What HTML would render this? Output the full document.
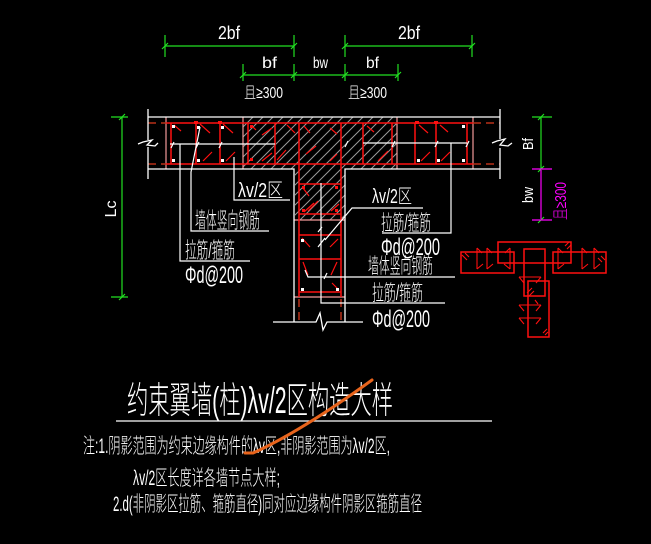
<!DOCTYPE html>
<html><head><meta charset="utf-8">
<style>
html,body{margin:0;padding:0;background:#000;}
svg{display:block;}
text{font-family:"Liberation Sans","Noto Sans CJK SC","WenQuanYi Zen Hei",sans-serif;fill:#fff;font-weight:300;}
</style></head><body>
<svg width="651" height="544" viewBox="0 0 651 544" xmlns="http://www.w3.org/2000/svg">
<defs>
<pattern id="h" patternUnits="userSpaceOnUse" width="10" height="10">
<path d="M0 10 L10 0 M-1 1 L1 -1 M9 11 L11 9" stroke="#9a9a9a" stroke-width="1"/>
</pattern>
</defs>
<rect width="651" height="544" fill="#000"/>

<!-- hatch -->
<polygon points="243,117 397,117 397,169 345,169 345,220 295,220 295,169 243,169" fill="url(#h)"/>

<!-- green dims top -->
<g stroke="#22e022" stroke-width="1.2" fill="none">
<line x1="165" y1="46" x2="294" y2="46"/>
<line x1="345" y1="46" x2="472" y2="46"/>
<line x1="165" y1="35" x2="165" y2="57"/>
<line x1="294" y1="35" x2="294" y2="57"/>
<line x1="345" y1="35" x2="345" y2="57"/>
<line x1="472" y1="35" x2="472" y2="57"/>
<line x1="243" y1="75" x2="398" y2="75"/>
<line x1="243" y1="64" x2="243" y2="81"/>
<line x1="294" y1="64" x2="294" y2="81"/>
<line x1="345" y1="64" x2="345" y2="81"/>
<line x1="398" y1="64" x2="398" y2="81"/>
<path d="M162 49 L168 43 M291 49 L297 43 M342 49 L348 43 M469 49 L475 43 M240 78 L246 72 M291 78 L297 72 M342 78 L348 72 M395 78 L401 72"/>
<!-- Lc -->
<line x1="122" y1="117" x2="122" y2="297"/>
<line x1="111" y1="117" x2="128" y2="117"/>
<line x1="111" y1="297" x2="128" y2="297"/>
<path d="M119 120 L125 114 M119 300 L125 294"/>
<!-- right Bf -->
<line x1="541" y1="117" x2="541" y2="169"/>
<line x1="532" y1="117" x2="552" y2="117"/>
<path d="M538 120 L544 114 M538 172 L544 166 M538 223 L544 217"/>
</g>
<g stroke="#ff00ff" stroke-width="1.2">
<line x1="541" y1="170" x2="541" y2="219"/>
<line x1="532" y1="169" x2="552" y2="169"/>
<line x1="532" y1="220" x2="552" y2="220"/>
</g>

<!-- dim texts -->
<text x="218" y="39" font-size="18" textLength="22" lengthAdjust="spacingAndGlyphs">2bf</text>
<text x="398" y="39" font-size="18" textLength="22" lengthAdjust="spacingAndGlyphs">2bf</text>
<text x="262" y="68" font-size="16" textLength="15" lengthAdjust="spacingAndGlyphs">bf</text>
<text x="313" y="68" font-size="16" textLength="15" lengthAdjust="spacingAndGlyphs">bw</text>
<text x="366" y="68" font-size="16" textLength="13" lengthAdjust="spacingAndGlyphs">bf</text>
<text x="244" y="98" font-size="16" textLength="39" lengthAdjust="spacingAndGlyphs">且≥300</text>
<text x="348" y="98" font-size="16" textLength="39" lengthAdjust="spacingAndGlyphs">且≥300</text>
<text transform="translate(533,144) rotate(-90)" text-anchor="middle" font-size="15" textLength="12" lengthAdjust="spacingAndGlyphs">Bf</text>
<text transform="translate(533,195) rotate(-90)" text-anchor="middle" font-size="15" textLength="16" lengthAdjust="spacingAndGlyphs">bw</text>
<text transform="translate(566,201) rotate(-90)" text-anchor="middle" font-size="16" textLength="38" lengthAdjust="spacingAndGlyphs" style="fill:#ff00ff">且≥300</text>
<text transform="translate(116,209) rotate(-90)" text-anchor="middle" font-size="16" textLength="17" lengthAdjust="spacingAndGlyphs">Lc</text>

<!-- pink lines -->
<g stroke="#f49a9a" stroke-width="1.2">
<line x1="166" y1="117" x2="166" y2="169"/>
<line x1="243" y1="117" x2="243" y2="169"/>
<line x1="397" y1="117" x2="397" y2="169"/>
<line x1="473" y1="117" x2="473" y2="169"/>
<line x1="294" y1="220" x2="345" y2="220"/>
<line x1="294" y1="297" x2="345" y2="297"/>
</g>

<!-- red rebar -->
<g stroke="#ff1010" stroke-width="1.5" fill="none">
<line x1="166" y1="123" x2="473" y2="123"/>
<line x1="166" y1="164" x2="473" y2="164"/>
<path d="M171 123V164 M196 123V164 M220 123V164 M248 123V164 M275 123V164 M363 123V164 M392 123V164 M415 123V164 M436 123V164 M467 123V164"/>
<path d="M299 123V297 M341 123V297"/>
<path d="M299 184H341 M299 214H341 M299 235H341 M299 259H341 M299 292H341"/>
</g>
<g stroke="#ff1010" stroke-width="1.2" fill="none">
<path d="M174 125 L181 131 M200 124 L210 133 M223 124 L233 133 M203 161 L212 152 M226 161 L235 152 M252 126 L256 130 M262 135 L272 128 M262 161 L272 153 M277 160 L286 150 M287 125 L295 133"/>
<path d="M304 126 L310 133 M330 128 L337 134 M306 154 L316 146 M330 161 L337 154 M367 126 L374 132 M378 161 L388 151 M419 125 L428 133 M440 125 L448 132 M421 161 L430 152 M441 161 L450 152"/>
<path d="M303 188 L309 196 M304 212 L314 203 M308 211 L318 201 M331 211 L339 204 M302 238 L310 247 M330 247 L338 239 M303 262 L308 275 M337 262 L331 275 M332 283 L339 290"/>
</g>
<g fill="#ff1010">
<rect x="194" y="121" width="4" height="3"/><rect x="218" y="121" width="4" height="3"/>
<rect x="250" y="125" width="3" height="3"/><rect x="250" y="158" width="3" height="3"/>
<rect x="415" y="121" width="4" height="3"/><rect x="434" y="121" width="4" height="3"/>
<rect x="302" y="186" width="3" height="3"/><rect x="335" y="186" width="3" height="3"/>
<rect x="302" y="209" width="3" height="3"/><rect x="335" y="209" width="3" height="3"/>
</g>
<g stroke="#b83018" stroke-width="1.5" stroke-dasharray="8,5">
<line x1="148" y1="123" x2="166" y2="123"/>
<line x1="148" y1="164" x2="166" y2="164"/>
<line x1="473" y1="123" x2="500" y2="123"/>
<line x1="473" y1="164" x2="500" y2="164"/>
<line x1="299" y1="299" x2="299" y2="322"/>
<line x1="341" y1="299" x2="341" y2="322"/>
</g>
<!-- white dots -->
<g fill="#fff">
<rect x="172" y="125" width="3" height="3"/><rect x="172" y="159" width="3" height="3"/>
<rect x="197" y="159" width="3" height="3"/><rect x="221" y="159" width="3" height="3"/>
<rect x="197" y="126" width="3" height="3"/><rect x="221" y="126" width="3" height="3"/>
<rect x="417" y="159" width="3" height="3"/><rect x="437" y="159" width="3" height="3"/>
<rect x="462" y="159" width="3" height="3"/><rect x="462" y="125" width="3" height="3"/>
<rect x="301" y="239" width="3" height="3"/><rect x="301" y="288" width="3" height="3"/>
<rect x="336" y="288" width="3" height="3"/>
</g>

<!-- white outline -->
<g stroke="#fff" stroke-width="1.3" fill="none">
<line x1="148" y1="117" x2="500" y2="117"/>
<path d="M148 109 V140 M148 147 V179"/>
<path d="M138 144 L143 142 L152 140 L147 145 L155 146 L158 143"/>
<path d="M500 109 V139 M500 148 V179"/>
<path d="M492 143 L497 141 L505 139 L500 145 L508 146 L512 143"/>
<path d="M148 169 H294 V322"/>
<path d="M500 169 H345 V322"/>
<path d="M273 322 L316 322 L320 313 L323 330 L327 322 L363 322"/>
</g>

<!-- leaders -->
<g stroke="#fff" stroke-width="1.2" fill="none">
<path d="M234 157 V200 H290"/>
<path d="M200 127 L191 172 V231 H269"/>
<path d="M170 144 H275 M180 144 V261 H250"/>
<path d="M363 143 H467 M451 143 V233 H382"/>
<path d="M325 240 L352 208 H423"/>
<path d="M305 270 L308 277 H455"/>
<path d="M321 183 V303 H445"/>
<path d="M171 148 L174 142 M196 148 L199 142 M219 148 L222 142 M345 147 L348 141 M392 147 L395 141 M435 147 L438 141 M466 147 L469 141 M318 247 L325 238 M318 232 L322 227 M324 279 L327 273"/>
</g>

<!-- labels -->
<text x="238" y="197" font-size="20" textLength="45" lengthAdjust="spacingAndGlyphs">λv/2区</text>
<text x="195" y="228" font-size="22" textLength="65" lengthAdjust="spacingAndGlyphs">墙体竖向钢筋</text>
<text x="185" y="258" font-size="22" textLength="50" lengthAdjust="spacingAndGlyphs">拉筋/箍筋</text>
<text x="185" y="283" font-size="24" textLength="58" lengthAdjust="spacingAndGlyphs">Φd@200</text>
<text x="372" y="203" font-size="20" textLength="40" lengthAdjust="spacingAndGlyphs">λv/2区</text>
<text x="381" y="230" font-size="21" textLength="50" lengthAdjust="spacingAndGlyphs">拉筋/箍筋</text>
<text x="381" y="255" font-size="24" textLength="59" lengthAdjust="spacingAndGlyphs">Φd@200</text>
<text x="368" y="273" font-size="21" textLength="65" lengthAdjust="spacingAndGlyphs">墙体竖向钢筋</text>
<text x="372" y="300" font-size="21" textLength="51" lengthAdjust="spacingAndGlyphs">拉筋/箍筋</text>
<text x="372" y="327" font-size="24" textLength="58" lengthAdjust="spacingAndGlyphs">Φd@200</text>

<!-- small right diagram -->
<g stroke="#ff1010" stroke-width="1.5" fill="none">
<rect x="498" y="242" width="73" height="21"/>
<rect x="461" y="252" width="53" height="21"/>
<rect x="553" y="252" width="53" height="21"/>
<rect x="524" y="249" width="21" height="47"/>
<rect x="528" y="281" width="21" height="56"/>
</g>
<g stroke="#ff1010" stroke-width="1.1" fill="none">
<path d="M462 255 L467 260 M465 253 L469 257"/>
<path d="M477 248 V269 M477 248 L482 253 M477 269 L483 264"/>
<path d="M487 248 V269 M487 248 L492 253 M487 269 L493 264"/>
<path d="M510 248 V269 M510 248 L505 253 M510 269 L504 264"/>
<path d="M558 248 V269 M558 248 L563 253 M558 269 L564 264"/>
<path d="M582 248 V269 M582 248 L587 253 M582 269 L588 264"/>
<path d="M594 248 V269 M594 248 L599 253 M594 269 L600 264"/>
<path d="M601 256 L605 260 M598 258 L602 262"/>
<path d="M565 246 L569 242 M567 249 L571 245 M538 304 L535 300"/>
<path d="M519 277 H541 M519 277 L524 283 M541 277 L536 283"/>
<path d="M519 305 H541 M519 305 L524 311 M541 305 L536 311"/>
<path d="M519 318 H541 M519 318 L524 324 M541 318 L536 324"/>
<path d="M527 293 L532 288 M529 296 L534 291 M543 333 L547 329 M545 335 L548 332"/>
</g>

<!-- title -->
<text x="127" y="413" font-size="37" textLength="266" lengthAdjust="spacingAndGlyphs">约束翼墙(柱)λv/2区构造大样</text>
<line x1="116" y1="421" x2="492" y2="421" stroke="#fff" stroke-width="1.2"/>
<text x="83" y="453" font-size="21" textLength="307" lengthAdjust="spacingAndGlyphs">注:1.阴影范围为约束边缘构件的λv区,非阴影范围为λv/2区,</text>
<text x="133" y="485" font-size="21" textLength="147" lengthAdjust="spacingAndGlyphs">λv/2区长度详各墙节点大样;</text>
<text x="113" y="511" font-size="21" textLength="309" lengthAdjust="spacingAndGlyphs">2.d(非阴影区拉筋、箍筋直径)同对应边缘构件阴影区箍筋直径</text>
<path d="M245 453 L253 453 Q300 432 372 380" stroke="#e8641c" stroke-width="3" fill="none" stroke-linecap="round"/>
</svg>
</body></html>
